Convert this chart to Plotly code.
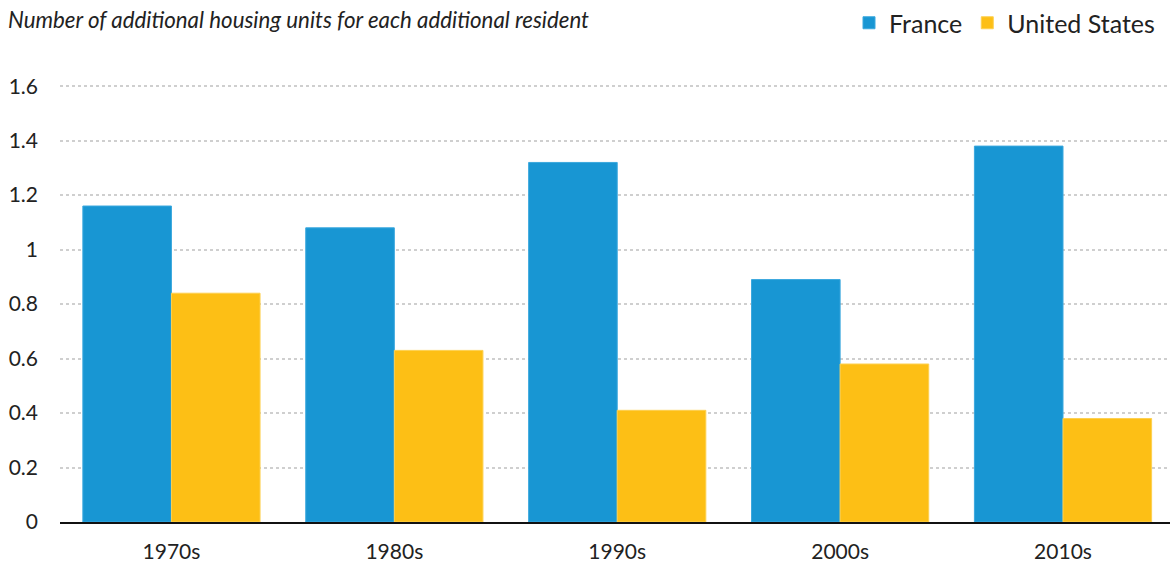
import plotly.graph_objects as go

decades = ["1970s", "1980s", "1990s", "2000s", "2010s"]
france = [1.16, 1.08, 1.32, 0.89, 1.38]
united_states = [0.84, 0.63, 0.41, 0.58, 0.38]
y_ticks = [0, 0.2, 0.4, 0.6, 0.8, 1, 1.2, 1.4, 1.6]
y_tick_labels = ["0", "0.2", "0.4", "0.6", "0.8", "1", "1.2", "1.4", "1.6"]

BLUE = "#1896d3"
YELLOW = "#fdbf15"
FONT = "Lato"

fig = go.Figure()
fig.add_trace(go.Bar(name="France", x=decades, y=france,
                     marker=dict(color=BLUE, line=dict(color="#3ba8de", width=1))))
fig.add_trace(go.Bar(name="United States", x=decades, y=united_states,
                     marker=dict(color=YELLOW, line=dict(color="#fdd050", width=1))))

fig.update_layout(
    width=1170, height=565,
    margin=dict(l=60, r=0, t=84, b=43),
    paper_bgcolor="white", plot_bgcolor="white",
    barmode="group", bargap=0.205, bargroupgap=0,
    font=dict(family=FONT, size=21, color="#222222"),
    showlegend=True,
    legend=dict(orientation="h", x=1.0 - 10 / 1110, xanchor="right", y=1.0, yref="container",
                yanchor="top", font=dict(family=FONT, size=25, color="#222222"),
                itemwidth=30, tracegroupgap=0),
    xaxis=dict(type="category", range=[-0.5, 4.48], showgrid=False, showline=True,
               linecolor="#111111", linewidth=2, ticks="", ticklabelstandoff=10,
               tickfont=dict(family=FONT, size=21, color="#222222"), fixedrange=True),
    yaxis=dict(range=[0, 1.608], tickvals=y_ticks, ticktext=y_tick_labels,
               showgrid=True, gridcolor="#cfcfcf", gridwidth=2, griddash="dot",
               zeroline=False, showline=False, ticks="", ticklabelstandoff=21,
               tickfont=dict(family=FONT, size=21, color="#222222")),
    annotations=[dict(text="<i>Number of additional housing units for each additional resident</i>",
                      xref="paper", yref="paper", x=-60/1110, xshift=6, xanchor="left",
                      y=1.0, yanchor="middle", yshift=65, showarrow=False,
                      font=dict(family=FONT, size=22.3, color="#222222"))],
)

fig.write_html("out.html")
